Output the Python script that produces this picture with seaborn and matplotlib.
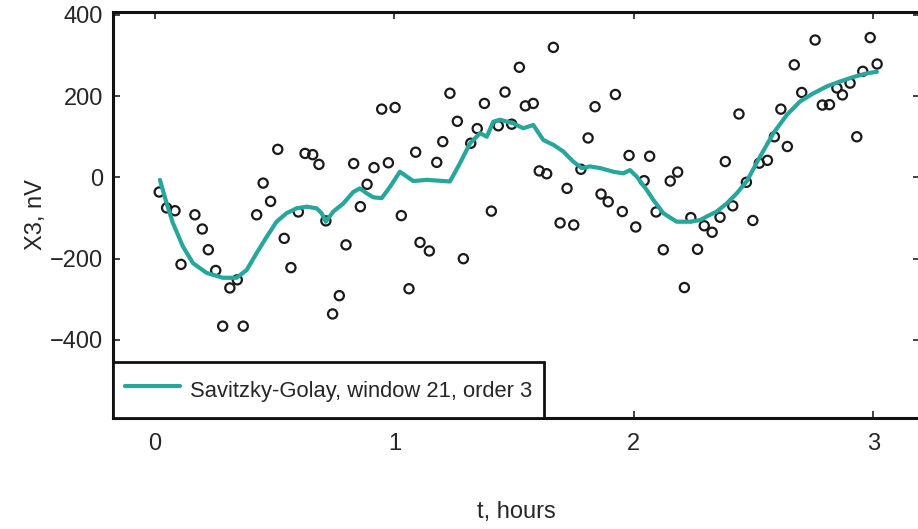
import matplotlib
matplotlib.use("Agg")
import matplotlib.pyplot as plt
import seaborn as sns
import pandas as pd

# Raw measurements: time (hours) and X3 signal (nV)
t_raw = [0.018, 0.049, 0.084, 0.109, 0.167, 0.198, 0.223, 0.254, 0.283, 0.313,
         0.344, 0.369, 0.425, 0.452, 0.483, 0.513, 0.540, 0.568, 0.599, 0.627,
         0.659, 0.685, 0.714, 0.742, 0.770, 0.798, 0.830, 0.858, 0.886, 0.915,
         0.947, 0.975, 1.003, 1.029, 1.061, 1.089, 1.107, 1.146, 1.177, 1.202,
         1.232, 1.263, 1.288, 1.319, 1.346, 1.376, 1.405, 1.434, 1.462, 1.490,
         1.522, 1.547, 1.580, 1.605, 1.636, 1.664, 1.692, 1.721, 1.749, 1.779,
         1.809, 1.838, 1.863, 1.893, 1.923, 1.952, 1.980, 2.008, 2.043, 2.066,
         2.093, 2.123, 2.152, 2.183, 2.211, 2.238, 2.266, 2.294, 2.327, 2.360,
         2.382, 2.413, 2.439, 2.470, 2.497, 2.524, 2.558, 2.587, 2.614, 2.641,
         2.670, 2.701, 2.757, 2.787, 2.817, 2.848, 2.871, 2.903, 2.931, 2.956,
         2.987, 3.016]
x3_raw = [-36, -75, -82, -214, -92, -127, -178, -229, -366, -272,
          -252, -366, -92, -14, -59, 69, -150, -222, -85, 59,
          56, 32, -107, -336, -291, -166, 34, -72, -17, 24,
          168, 36, 172, -94, -274, 62, -160, -181, 37, 88,
          207, 138, -200, 84, 120, 182, -83, 127, 210, 131,
          271, 176, 182, 16, 9, 320, -112, -27, -117, 20,
          97, 174, -41, -60, 204, -84, 54, -122, -8, 52,
          -85, -178, -9, 13, -271, -99, -177, -119, -135, -98,
          39, -70, 156, -12, -106, 35, 42, 100, 168, 76,
          277, 209, 338, 178, 179, 220, 203, 232, 100, 261,
          344, 279]

# Savitzky-Golay smoothed trace (window 21, order 3)
t_sg = [0.021, 0.049, 0.075, 0.117, 0.159, 0.216, 0.284, 0.341, 0.383, 0.425,
        0.467, 0.508, 0.550, 0.592, 0.634, 0.675, 0.696, 0.714, 0.745, 0.787,
        0.828, 0.856, 0.884, 0.912, 0.947, 0.982, 1.023, 1.079, 1.135, 1.232,
        1.274, 1.316, 1.358, 1.386, 1.413, 1.441, 1.497, 1.538, 1.580, 1.622,
        1.664, 1.705, 1.747, 1.782, 1.817, 1.859, 1.914, 1.956, 1.984, 2.012,
        2.054, 2.081, 2.123, 2.179, 2.235, 2.277, 2.305, 2.346, 2.388, 2.430,
        2.472, 2.527, 2.583, 2.639, 2.694, 2.750, 2.806, 2.861, 2.917, 2.973,
        3.015]
x3_sg = [-6, -64, -112, -170, -211, -235, -247, -247, -228, -186,
         -146, -109, -88, -76, -72, -76, -88, -109, -84, -64,
         -36, -27, -39, -49, -51, -23, 14, -9, -6, -10,
         35, 84, 109, 100, 137, 142, 133, 121, 129, 92,
         80, 64, 39, 23, 27, 23, 14, 10, 18, 2,
         -31, -55, -88, -109, -109, -105, -96, -84, -64, -39,
         -9, 51, 109, 154, 187, 207, 224, 236, 247, 256,
         260]

x_ticks = [0, 1, 2, 3]
y_ticks = [-400, -200, 0, 200, 400]
legend_label = "Savitzky-Golay, window 21, order 3"

raw_df = pd.DataFrame({"t": t_raw, "x3": x3_raw})
sg_df = pd.DataFrame({"t": t_sg, "x3": x3_sg})

sns.set_style("ticks")
plt.rcParams["font.family"] = ["Liberation Sans", "DejaVu Sans"]

fig = plt.figure(figsize=(9.18, 5.29), dpi=100)
ax = fig.add_axes([113 / 918, 1 - 418 / 529, (920 - 113) / 918, (418 - 12) / 529])

sns.scatterplot(data=raw_df, x="t", y="x3", ax=ax, marker="o", s=44,
                facecolor="none", edgecolor="#1a1a1a", linewidth=1.6,
                legend=False, zorder=3)
sns.lineplot(data=sg_df, x="t", y="x3", ax=ax, color="#27a69b", linewidth=3.0,
             label=legend_label, zorder=4)

ax.set_xlim(-0.175, 3.195)
ax.set_ylim(-592, 407)
ax.set_xticks(x_ticks)
ax.set_yticks(y_ticks)
ax.set_yticklabels(["\u2212400", "\u2212200", "0", "200", "400"])

ax.tick_params(axis="both", which="major", direction="in", length=5, width=1.2,
               labelsize=17, top=True, right=True, color="#222222")
ax.tick_params(axis="y", pad=7)
ax.tick_params(axis="x", pad=11)
for side in ["left", "bottom", "top", "right"]:
    ax.spines[side].set_linewidth(2.2)
    ax.spines[side].set_color("#111111")

ax.set_xlabel("t, hours", fontsize=17, labelpad=33)
ax.set_ylabel("X3, nV", fontsize=17, labelpad=2)

leg = ax.legend(loc="lower left", bbox_to_anchor=(0, 0), borderaxespad=0,
                fontsize=15.8, frameon=True, fancybox=False, framealpha=1,
                handlelength=2.5, handleheight=1.85, handletextpad=0.46,
                borderpad=0.55)
leg.get_frame().set_edgecolor("#111111")
leg.get_frame().set_linewidth(2.0)

fig.savefig("out.png", dpi=100)
